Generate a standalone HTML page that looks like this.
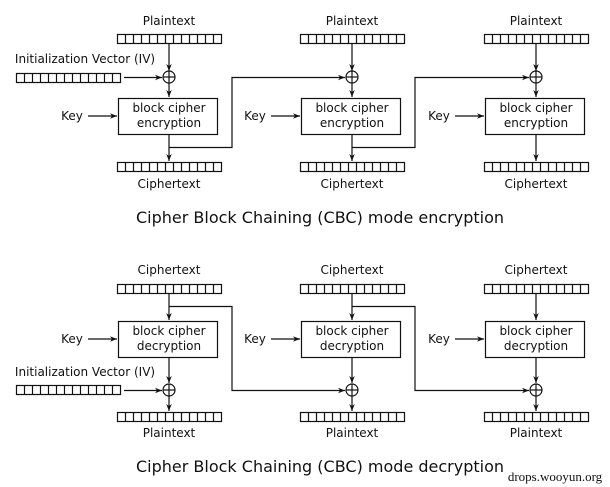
<!DOCTYPE html>
<html><head><meta charset="utf-8"><style>
html,body{margin:0;padding:0;background:#fff;width:610px;height:487px;overflow:hidden}
svg text{font-family:"DejaVu Sans","Liberation Sans",sans-serif;fill:#111}
</style></head><body>
<svg id="s" width="610" height="487" viewBox="0 0 610 487" xmlns="http://www.w3.org/2000/svg">
<defs><marker id="a" viewBox="0 0 10 10" refX="10" refY="5" markerWidth="7" markerHeight="7" orient="auto" markerUnits="userSpaceOnUse"><path d="M0,1 L10,5 L0,9 L3,5 z" fill="#111"/></marker></defs>
<g id="g" stroke="#111" stroke-width="1.2" fill="none"></g>
<text x="320" y="223" font-size="16" text-anchor="middle">Cipher Block Chaining (CBC) mode encryption</text>
<text x="320" y="472" font-size="16" text-anchor="middle">Cipher Block Chaining (CBC) mode decryption</text>
<text x="555" y="481" font-size="13" text-anchor="middle" style="font-family:'Liberation Serif',serif">drops.wooyun.org</text>
</svg>
<script>
var g=document.getElementById('g'),s=document.getElementById('s'),NS='http://www.w3.org/2000/svg';
function el(t,a,p){var e=document.createElementNS(NS,t);for(var k in a)e.setAttribute(k,a[k]);(p||g).appendChild(e);return e;}
function txt(x,y,t,sz){var e=el('text',{x:x,y:y,'font-size':sz||12,'text-anchor':'middle'},s);e.textContent=t;}
function bar(x,y){el('rect',{x:x+.5,y:y+.5,width:104,height:9});for(var i=1;i<13;i++)el('line',{x1:x+.5+i*8,y1:y+.5,x2:x+.5+i*8,y2:y+9.5});}
function ln(pts,arrow){var a={points:pts};if(arrow)a['marker-end']='url(#a)';el('polyline',a);}
function xor(cx,cy){el('circle',{cx:cx,cy:cy,r:6});el('line',{x1:cx-6,y1:cy,x2:cx+6,y2:cy});el('line',{x1:cx,y1:cy-6,x2:cx,y2:cy+6});}
var C=[169,352,536];
C.forEach(function(c,i){
 txt(c,25,'Plaintext');bar(c-52,34);
 ln(c+',44 '+c+',71',1);xor(c,77);ln(c+',83 '+c+',97',1);
 el('rect',{x:c-50.5,y:98.5,width:99,height:36});
 txt(c,112,'block cipher');txt(c,127,'encryption');
 txt(c-97,120,'Key');ln((c-81)+',116 '+(c-52)+',116',1);
 ln(c+',135 '+c+',161',1);bar(c-52,162);txt(c,188,'Ciphertext');
 txt(c,274,'Ciphertext');bar(c-52,284);
 ln(c+',294 '+c+',320',1);
 el('rect',{x:c-50.5,y:321.5,width:99,height:36});
 txt(c,335,'block cipher');txt(c,350,'decryption');
 txt(c-97,343,'Key');ln((c-81)+',339 '+(c-52)+',339',1);
 ln(c+',358 '+c+',383',1);xor(c,390);ln(c+',396 '+c+',411',1);
 bar(c-52,412);txt(c,437,'Plaintext');
 if(i<2){var n=C[i+1],m=c+63;
  ln(c+',147.5 '+m+',147.5 '+m+',77.5 '+(n-7)+',77.5',1);
  ln(c+',306.5 '+m+',306.5 '+m+',390.5 '+(n-7)+',390.5',1);}
});
txt(85,63,'Initialization Vector (IV)');bar(16,73);ln('124,77.5 162,77.5',1);
txt(85,376,'Initialization Vector (IV)');bar(16,385);ln('124,390.5 162,390.5',1);
</script>
</body></html>
